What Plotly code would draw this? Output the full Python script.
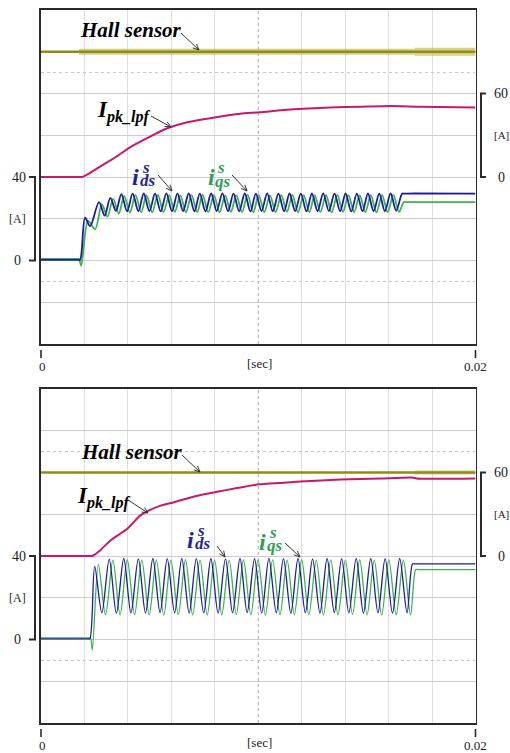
import math
import plotly.graph_objects as go

# ---------------- data (time in ms, currents in A) ----------------
T_END_MS = 20.0

# Hall-sensor channel: offset level (left scale) and start of noisy band(s)
hall_level_top = 100
hall_level_bot = 80
hall_band_top = [1.75, 17.2]
hall_band_bot = [17.2]

# ---- top panel ----
top_ipk_t = [0, 1.75, 1.89, 2.26, 2.72, 3.41, 4.06, 5.02, 5.81, 6.64, 8.06, 9.17,
             10.05, 11.47, 13.32, 14.70, 16.08, 17.47, 20.0]
top_ipk_v = [0, 0, 0, 3, 7.5, 14, 21, 29, 35, 39, 43, 45.5,
             46.5, 48.5, 50, 50.5, 51, 50.5, 50]

top_ids_t = [0, 1.70, 1.80, 2.03, 2.26, 2.67, 2.93, 3.19, 3.45, 3.70, 3.96,
             4.22, 4.48, 4.73, 4.99, 5.25, 5.51, 5.77, 6.03, 6.28, 6.54,
             6.80, 7.06, 7.31, 7.57, 7.83, 8.09, 8.35, 8.61, 8.86, 9.12,
             9.38, 9.64, 9.89, 10.15, 10.41, 10.67, 10.93, 11.19, 11.44, 11.70,
             11.96, 12.22, 12.47, 12.73, 12.99, 13.25, 13.51, 13.77, 14.02, 14.28,
             14.54, 14.80, 15.05, 15.31, 15.57, 15.83, 16.09, 16.35,
             16.62, 16.72, 17.20, 20.0]
top_ids_v = [0.3, 0.3, 0.3, 20.5, 16.5, 28.0, 21.5, 30.0, 23.8, 31.8, 23.6,
             32.0, 23.6, 32.1, 23.7, 32.0, 23.5, 32.2, 23.6, 32.0, 23.7,
             32.1, 23.6, 32.0, 23.5, 32.1, 23.7, 32.2, 23.6, 32.0, 23.6,
             32.1, 23.5, 32.0, 23.7, 32.2, 23.6, 32.0, 23.6, 32.1, 23.7,
             32.0, 23.5, 32.1, 23.6, 32.2, 23.7, 32.0, 23.6, 32.1, 23.5,
             32.0, 23.6, 32.1, 23.7, 32.0, 23.6, 32.1, 23.8,
             32.0, 32.0, 32.1, 32.0]

top_iqs_t = [0, 1.68, 1.75, 1.85, 2.17, 2.49, 2.80, 3.06, 3.32, 3.58, 3.83, 4.09,
             4.35, 4.61, 4.86, 5.12, 5.38, 5.64, 5.90, 6.16, 6.41, 6.67,
             6.93, 7.19, 7.44, 7.70, 7.96, 8.22, 8.48, 8.74, 8.99, 9.25,
             9.51, 9.77, 10.02, 10.28, 10.54, 10.80, 11.06, 11.32, 11.57, 11.83,
             12.09, 12.35, 12.60, 12.86, 13.12, 13.38, 13.64, 13.90, 14.15, 14.41,
             14.67, 14.93, 15.18, 15.44, 15.70, 15.96, 16.22, 16.48,
             16.70, 16.80, 17.30, 20.0]
top_iqs_v = [0.8, 0.8, 0.8, -2.5, 19.0, 15.0, 27.0, 21.0, 29.5, 22.5, 31.0, 23.0,
             31.3, 23.2, 31.2, 23.1, 31.4, 23.2, 31.3, 23.3, 31.2, 23.1,
             31.3, 23.2, 31.4, 23.2, 31.3, 23.1, 31.2, 23.3, 31.3, 23.2,
             31.4, 23.1, 31.3, 23.2, 31.2, 23.2, 31.3, 23.3, 31.4, 23.1,
             31.3, 23.2, 31.2, 23.2, 31.3, 23.1, 31.4, 23.3, 31.3, 23.2,
             31.2, 23.2, 31.3, 23.1, 31.3, 23.2, 31.4, 23.3,
             28.0, 28.0, 28.0, 28.0]

# ---- bottom panel ----
bot_ipk_t = [0, 2.25, 2.35, 2.72, 3.18, 3.64, 4.00, 4.56, 4.93, 5.48, 6.08, 7.10,
             8.06, 9.08, 10.05, 11.01, 11.94, 13.78, 15.62, 17.14, 17.28, 20.0]
bot_ipk_v = [0, 0, 0, 4, 11, 16, 20, 29, 32.5, 36, 38.5, 43,
             46, 49, 51.5, 52.5, 53.5, 55, 55.7, 56.3, 55.7, 55.7]

bot_ids_t = [0, 2.17, 2.25,
             2.47, 2.80, 3.14, 3.47, 3.81, 4.14, 4.48, 4.81, 5.15, 5.48,
             5.81, 6.15, 6.48, 6.82, 7.15, 7.49, 7.82, 8.15, 8.49, 8.82,
             9.16, 9.49, 9.83, 10.16, 10.49, 10.83, 11.16, 11.50, 11.83, 12.17,
             12.50, 12.84, 13.17, 13.50, 13.84, 14.17, 14.51, 14.84, 15.18, 15.51,
             15.84, 16.18, 16.51, 16.85,
             17.10, 17.20, 17.60, 20.0]
bot_ids_v = [0.3, 0.3, 0.3,
             35.0, 12.8, 38.5, 12.6, 38.8, 12.8, 38.6, 12.7, 38.8, 12.9,
             38.7, 12.8, 38.9, 12.6, 38.7, 12.8, 38.8, 12.7, 38.6, 12.8,
             38.8, 12.9, 38.7, 12.7, 38.9, 12.8, 38.7, 12.6, 38.8, 12.8,
             38.6, 12.7, 38.8, 12.9, 38.7, 12.8, 38.9, 12.7, 38.8, 12.8,
             38.7, 12.6, 38.8, 12.8,
             36.2, 36.2, 36.2, 36.2]

bot_iqs_t = [0, 2.20, 2.28, 2.36,
             2.64, 2.97, 3.31, 3.64, 3.97, 4.31, 4.64, 4.98, 5.31, 5.65,
             5.98, 6.32, 6.65, 6.98, 7.32, 7.65, 7.99, 8.32, 8.66, 8.99,
             9.32, 9.66, 9.99, 10.33, 10.66, 11.00, 11.33, 11.66, 12.00, 12.33,
             12.67, 13.00, 13.34, 13.67, 14.01, 14.34, 14.67, 15.01, 15.34, 15.68,
             16.01, 16.35, 16.68, 17.01,
             17.25, 17.35, 17.70, 20.0]
bot_iqs_v = [0.8, 0.8, 0.8, -5.0,
             36.0, 11.8, 38.0, 11.7, 38.2, 11.9, 38.0, 11.8, 38.1, 11.7,
             38.0, 11.9, 38.2, 11.8, 38.0, 11.7, 38.1, 11.8, 38.0, 11.9,
             38.2, 11.8, 38.0, 11.7, 38.1, 11.8, 38.0, 11.9, 38.2, 11.8,
             38.0, 11.7, 38.1, 11.8, 38.0, 11.9, 38.2, 11.8, 38.0, 11.7,
             38.1, 11.8, 38.0, 11.8,
             33.5, 33.5, 33.5, 33.5]

# axis texts
left_tick_labels = ["40", "[A]", "0"]
right_tick_labels = ["60", "[A]", "0"]
x_tick_labels = ["0", "[sec]", "0.02"]

# ---------------- layout constants ----------------
FIG_W, FIG_H = 510, 753
PAGE_OFF = 0          # body margin is removed by the post script
PLOT_L, PLOT_R = 41, 475.5
PANELS = [(10, 344), (389, 723)]
LEFT_RANGE = [-40, 120]
RIGHT_RANGE = [-120, 120]

C_BLUE = "#1c1c9e"
C_GREEN = "#3bb44a"
C_MAG = "#c8186e"
C_HALL = "#8e8e16"
C_HALL_BAND = "rgba(190,185,70,0.65)"
C_AX = "#2a2a2a"
SERIF = "Liberation Serif"


def pxx(x):
    return (x - PAGE_OFF) / FIG_W


def pxy(y):
    return 1 - (y - PAGE_OFF) / FIG_H


def y_left(p, v):
    top, bot = PANELS[p]
    return top + (LEFT_RANGE[1] - v) / (LEFT_RANGE[1] - LEFT_RANGE[0]) * (bot - top)


def y_right(p, v):
    top, bot = PANELS[p]
    return top + (RIGHT_RANGE[1] - v) / (RIGHT_RANGE[1] - RIGHT_RANGE[0]) * (bot - top)


def sec(lst):
    return [t / 1000.0 for t in lst]


fig = go.Figure()

panel_axes = [("x", "y", "y2"), ("x2", "y3", "y4")]
panel_data = [
    dict(hall=hall_level_top, band=hall_band_top, ipk=(top_ipk_t, top_ipk_v),
         ids=(top_ids_t, top_ids_v), iqs=(top_iqs_t, top_iqs_v), lw=1.8, bw=[6, 8]),
    dict(hall=hall_level_bot, band=hall_band_bot, ipk=(bot_ipk_t, bot_ipk_v),
         ids=(bot_ids_t, bot_ids_v), iqs=(bot_iqs_t, bot_iqs_v), lw=1.3, bw=[4]),
]

for (xa, ya, ya2), d in zip(panel_axes, panel_data):
    # hall sensor noisy band(s)
    for i, b0 in enumerate(d["band"]):
        b1 = d["band"][i + 1] if i + 1 < len(d["band"]) else T_END_MS
        fig.add_trace(go.Scatter(
            x=sec([b0, b1]), y=[d["hall"], d["hall"]], mode="lines",
            line=dict(color=C_HALL_BAND, width=d["bw"][i]),
            xaxis=xa, yaxis=ya, hoverinfo="skip", showlegend=False))
    fig.add_trace(go.Scatter(
        x=sec([0, T_END_MS]), y=[d["hall"], d["hall"]], mode="lines",
        line=dict(color=C_HALL, width=2.4), xaxis=xa, yaxis=ya, showlegend=False))
    # Ipk_lpf (right scale)
    fig.add_trace(go.Scatter(
        x=sec(d["ipk"][0]), y=d["ipk"][1], mode="lines",
        line=dict(color=C_MAG, width=2, shape="spline", smoothing=0.6),
        xaxis=xa, yaxis=ya2, showlegend=False))
    # iqs (green), ids (blue)
    fig.add_trace(go.Scatter(
        x=sec(d["iqs"][0]), y=d["iqs"][1], mode="lines",
        line=dict(color=C_GREEN, width=d["lw"], shape="spline", smoothing=0.9),
        xaxis=xa, yaxis=ya, showlegend=False))
    fig.add_trace(go.Scatter(
        x=sec(d["ids"][0]), y=d["ids"][1], mode="lines",
        line=dict(color=C_BLUE, width=d["lw"], shape="spline", smoothing=0.9),
        xaxis=xa, yaxis=ya, showlegend=False))

# ---------------- axes ----------------
grid_x = [0.002, 0.004, 0.006, 0.008, 0.012, 0.014, 0.016, 0.018]
grid_y = [-20, 0, 20, 40, 60, 80, 100]

common_x = dict(range=[0, T_END_MS / 1000], tickvals=grid_x, showticklabels=False,
                ticks="", showgrid=True, gridcolor="#dedede", gridwidth=1,
                zeroline=False, showline=True, mirror=True, linecolor=C_AX,
                linewidth=1.6, fixedrange=True)
common_y = dict(range=LEFT_RANGE, tickvals=grid_y, showticklabels=False, ticks="",
                showgrid=True, gridcolor="#cdcdcd", gridwidth=1, zeroline=False,
                showline=True, mirror=True, linecolor=C_AX, linewidth=1.6,
                fixedrange=True)

layout = dict(
    width=FIG_W, height=FIG_H, autosize=False,
    margin=dict(l=0, r=0, t=0, b=0),
    paper_bgcolor="white", plot_bgcolor="white", showlegend=False,
    xaxis=dict(domain=[pxx(PLOT_L), pxx(PLOT_R)], anchor="y", **common_x),
    yaxis=dict(domain=[pxy(PANELS[0][1]), pxy(PANELS[0][0])], anchor="x", **common_y),
    yaxis2=dict(overlaying="y", anchor="x", side="right", range=RIGHT_RANGE, visible=False),
    xaxis2=dict(domain=[pxx(PLOT_L), pxx(PLOT_R)], anchor="y3", **common_x),
    yaxis3=dict(domain=[pxy(PANELS[1][1]), pxy(PANELS[1][0])], anchor="x2", **common_y),
    yaxis4=dict(overlaying="y3", anchor="x2", side="right", range=RIGHT_RANGE, visible=False),
)
fig.update_layout(**layout)

shapes = []
annotations = []

for p, (xa, ya, _) in enumerate(panel_axes):
    top, bot = PANELS[p]
    # dotted centre lines
    shapes.append(dict(type="line", xref=xa, yref=ya, x0=0.01, x1=0.01,
                       y0=LEFT_RANGE[0], y1=LEFT_RANGE[1], layer="between",
                       line=dict(color="#a8a8a8", width=1, dash="dot")))
    for v in (90, -10):
        shapes.append(dict(type="line", xref=xa, yref=ya, x0=0, x1=T_END_MS / 1000,
                           y0=v, y1=v, layer="between",
                           line=dict(color="#c4c4c4", width=1, dash="dot")))
    # left bracket 0..40
    y40, y0 = y_left(p, 40), y_left(p, 0)
    shapes.append(dict(type="path", xref="paper", yref="paper",
                       path=f"M {pxx(29)},{pxy(y40)} L {pxx(35)},{pxy(y40)} L {pxx(35)},{pxy(y0)} L {pxx(29)},{pxy(y0)}",
                       line=dict(color=C_AX, width=2)))
    for txt, yy, xx, fs in zip(left_tick_labels, [y40, (y40 + y0) / 2, y0],
                               [18.5, 17.5, 17], [14, 12, 14]):
        annotations.append(dict(xref="paper", yref="paper", x=pxx(xx), y=pxy(yy),
                                text=txt, showarrow=False, xanchor="center", yanchor="middle",
                                font=dict(family=SERIF, size=fs, color="#222")))
    # right bracket 0..60
    r60, r0 = y_right(p, 60), y_right(p, 0)
    shapes.append(dict(type="path", xref="paper", yref="paper",
                       path=f"M {pxx(486)},{pxy(r60)} L {pxx(481)},{pxy(r60)} L {pxx(481)},{pxy(r0)} L {pxx(486)},{pxy(r0)}",
                       line=dict(color=C_AX, width=2)))
    for txt, yy, fs in zip(right_tick_labels, [r60, (r60 + r0) / 2, r0], [14, 11, 14]):
        annotations.append(dict(xref="paper", yref="paper", x=pxx(501), y=pxy(yy),
                                text=txt, showarrow=False, xanchor="center", yanchor="middle",
                                font=dict(family=SERIF, size=fs, color="#222")))
    # x ticks and labels
    for xx in (PLOT_L, PLOT_R):
        shapes.append(dict(type="line", xref="paper", yref="paper",
                           x0=pxx(xx), x1=pxx(xx), y0=pxy(bot + 6), y1=pxy(bot + 14),
                           line=dict(color=C_AX, width=1.6)))
    for txt, xx, dy in zip(x_tick_labels, [42, 259, 475], [22, 19, 22]):
        annotations.append(dict(xref="paper", yref="paper", x=pxx(xx), y=pxy(bot + dy),
                                text=txt, showarrow=False, xanchor="center", yanchor="middle",
                                font=dict(family=SERIF, size=13, color="#222")))


def label(x, y, text, size, color, xanchor="left"):
    annotations.append(dict(xref="paper", yref="paper", x=pxx(x), y=pxy(y), text=text,
                            showarrow=False, xanchor=xanchor, yanchor="middle",
                            font=dict(family=SERIF, size=size, color=color)))


def arrow(tail, head, head_len=6.5, spread=0.42):
    """Thin pointer line with an open V head, drawn as paper shapes."""
    ang = math.atan2(head[1] - tail[1], head[0] - tail[0])
    pts = []
    for s in (spread, -spread):
        pts.append((head[0] - head_len * math.cos(ang + s),
                    head[1] - head_len * math.sin(ang + s)))
    path = (f"M {pxx(tail[0])},{pxy(tail[1])} L {pxx(head[0])},{pxy(head[1])} "
            f"M {pxx(pts[0][0])},{pxy(pts[0][1])} L {pxx(head[0])},{pxy(head[1])} "
            f"L {pxx(pts[1][0])},{pxy(pts[1][1])}")
    shapes.append(dict(type="path", xref="paper", yref="paper", path=path,
                       line=dict(color="#333", width=1)))


BI = "<b><i>{}</i></b>"
IPK = "<b><i>I</i></b><sub><b><i>pk_lpf</i></b></sub>"
C_TXT_B = "#23239a"
C_TXT_G = "#2f9e55"

# top panel labels
label(131, 30, BI.format("Hall sensor"), 21, "black", "center")
arrow((181, 33), (199, 50))
label(95, 112, IPK, 23, "black")
arrow((151, 116), (171, 127))
label(130, 177, BI.format("i"), 24, C_TXT_B)
label(140, 167, BI.format("s"), 17, C_TXT_B)
label(138, 180, BI.format("ds"), 17, C_TXT_B)
arrow((158, 175), (172, 191))
label(206, 177, BI.format("i"), 24, C_TXT_G)
label(215, 167, BI.format("s"), 17, C_TXT_G)
label(213, 181, BI.format("qs"), 17, C_TXT_G)
arrow((232, 175), (247, 191))

# bottom panel labels
label(132, 452, BI.format("Hall sensor"), 21, "black", "center")
arrow((182, 455), (200, 472))
label(75, 497, IPK, 23, "black")
arrow((128, 500), (148, 513))
label(185, 540, BI.format("i"), 24, C_TXT_B)
label(195, 530, BI.format("s"), 17, C_TXT_B)
label(193, 543, BI.format("ds"), 17, C_TXT_B)
arrow((217, 546), (225, 557))
label(257, 542, BI.format("i"), 24, C_TXT_G)
label(267, 532, BI.format("s"), 17, C_TXT_G)
label(265, 545, BI.format("qs"), 17, C_TXT_G)
arrow((285, 543), (300, 557))

fig.update_layout(shapes=shapes, annotations=annotations)

# remove the default 8px page margin so the 510x753 figure fills the window
fig.write_html("out.html",
               config={"displayModeBar": False, "staticPlot": True},
               post_script="document.body.style.margin='0';"
                           "document.documentElement.style.overflow='hidden';")
